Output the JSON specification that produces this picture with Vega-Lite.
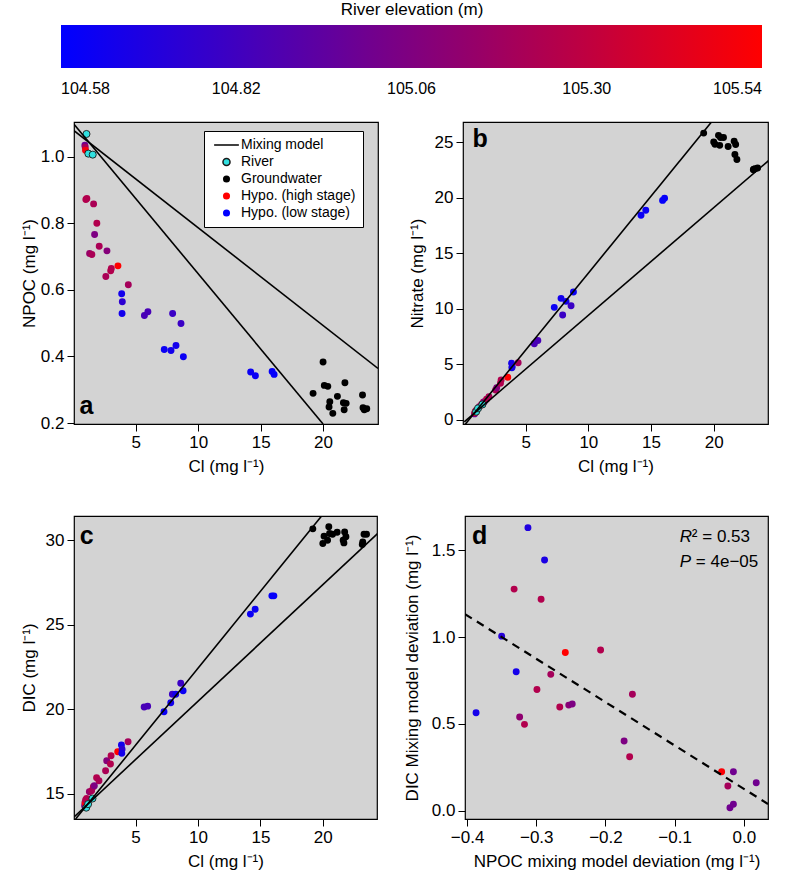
{
  "$schema": "https://vega.github.io/schema/vega-lite/v6.json",
  "padding": {"left": 19, "top": 2, "right": 5, "bottom": 5},
  "background": "white",
  "config": {
    "font": "Liberation Sans",
    "view": {"fill": "#d3d3d3", "stroke": "black", "strokeWidth": 1.2},
    "axis": {"domain": false, "grid": false, "tickColor": "black", "tickSize": 7, "tickWidth": 1, "labelFontSize": 17, "labelColor": "black", "labelPadding": 3, "titleFontSize": 17, "titleFontWeight": "normal", "titleColor": "black", "labelFont": "Liberation Sans", "titleFont": "Liberation Sans"},
    "text": {"font": "Liberation Sans"}
  },
  "datasets": {
    "river": [
      {"cl": 1.05, "npoc": 1.068, "no3": 0.75, "dic": 14.19, "cat": "River"},
      {"cl": 1.2, "npoc": 1.009, "no3": 1.05, "dic": 14.4, "cat": "River"},
      {"cl": 1.55, "npoc": 1.006, "no3": 1.4, "dic": 14.73, "cat": "River"}
    ],
    "gw": [
      {"cl": 19.2, "npoc": 0.289, "no3": 25.8, "dic": 30.67, "cat": "Groundwater"},
      {"cl": 20.0, "npoc": 0.383, "no3": 25.0, "dic": 29.8, "cat": "Groundwater"},
      {"cl": 20.1, "npoc": 0.313, "no3": 24.8, "dic": 30.24, "cat": "Groundwater"},
      {"cl": 20.38, "npoc": 0.31, "no3": 25.6, "dic": 30.0, "cat": "Groundwater"},
      {"cl": 20.48, "npoc": 0.248, "no3": 24.7, "dic": 30.79, "cat": "Groundwater"},
      {"cl": 20.54, "npoc": 0.264, "no3": 25.4, "dic": 30.4, "cat": "Groundwater"},
      {"cl": 20.78, "npoc": 0.229, "no3": 25.4, "dic": 30.35, "cat": "Groundwater"},
      {"cl": 21.15, "npoc": 0.28, "no3": 24.6, "dic": 30.47, "cat": "Groundwater"},
      {"cl": 21.63, "npoc": 0.261, "no3": 25.07, "dic": 30.0, "cat": "Groundwater"},
      {"cl": 21.69, "npoc": 0.24, "no3": 23.87, "dic": 29.84, "cat": "Groundwater"},
      {"cl": 21.75, "npoc": 0.321, "no3": 24.77, "dic": 30.49, "cat": "Groundwater"},
      {"cl": 21.85, "npoc": 0.259, "no3": 23.42, "dic": 30.2, "cat": "Groundwater"},
      {"cl": 23.16, "npoc": 0.284, "no3": 22.5, "dic": 29.75, "cat": "Groundwater"},
      {"cl": 23.2, "npoc": 0.246, "no3": 22.55, "dic": 29.9, "cat": "Groundwater"},
      {"cl": 23.3, "npoc": 0.24, "no3": 22.6, "dic": 30.35, "cat": "Groundwater"},
      {"cl": 23.5, "npoc": 0.243, "no3": 22.66, "dic": 30.35, "cat": "Groundwater"}
    ],
    "hypo": [
      {"cl": 0.92, "npoc": 1.034, "no3": 0.55, "dic": 14.3, "elev": 105.0},
      {"cl": 0.95, "npoc": 1.028, "no3": 0.65, "dic": 14.5, "elev": 105.2},
      {"cl": 0.97, "npoc": 1.019, "no3": 0.7, "dic": 14.45, "elev": 105.5},
      {"cl": 1.0, "npoc": 0.871, "no3": 0.8, "dic": 14.64, "elev": 105.25},
      {"cl": 1.08, "npoc": 0.874, "no3": 0.9, "dic": 14.74, "elev": 105.25},
      {"cl": 1.3, "npoc": 0.709, "no3": 1.2, "dic": 15.13, "elev": 105.15},
      {"cl": 1.48, "npoc": 0.706, "no3": 1.4, "dic": 15.19, "elev": 105.22},
      {"cl": 1.62, "npoc": 0.858, "no3": 1.6, "dic": 15.43, "elev": 105.22},
      {"cl": 1.7, "npoc": 0.766, "no3": 1.65, "dic": 15.49, "elev": 105.05},
      {"cl": 1.88, "npoc": 0.8, "no3": 1.87, "dic": 15.96, "elev": 105.25},
      {"cl": 2.07, "npoc": 0.731, "no3": 2.1, "dic": 15.78, "elev": 105.22},
      {"cl": 2.6, "npoc": 0.64, "no3": 2.7, "dic": 16.37, "elev": 105.22},
      {"cl": 2.69, "npoc": 0.717, "no3": 2.9, "dic": 16.96, "elev": 105.08},
      {"cl": 2.99, "npoc": 0.657, "no3": 3.3, "dic": 16.77, "elev": 105.25},
      {"cl": 3.04, "npoc": 0.664, "no3": 3.6, "dic": 17.26, "elev": 105.25},
      {"cl": 3.57, "npoc": 0.672, "no3": 3.85, "dic": 17.5, "elev": 105.54},
      {"cl": 3.87, "npoc": 0.588, "no3": 5.1, "dic": 17.89, "elev": 104.65},
      {"cl": 3.92, "npoc": 0.564, "no3": 4.8, "dic": 17.65, "elev": 104.75},
      {"cl": 3.9, "npoc": 0.529, "no3": 4.7, "dic": 17.4, "elev": 104.65},
      {"cl": 4.4, "npoc": 0.615, "no3": 5.15, "dic": 18.09, "elev": 105.2},
      {"cl": 5.69, "npoc": 0.523, "no3": 6.85, "dic": 20.14, "elev": 104.85},
      {"cl": 5.97, "npoc": 0.534, "no3": 7.15, "dic": 20.19, "elev": 104.85},
      {"cl": 7.28, "npoc": 0.421, "no3": 10.13, "dic": 19.86, "elev": 104.62},
      {"cl": 7.82, "npoc": 0.418, "no3": 10.94, "dic": 20.39, "elev": 104.65},
      {"cl": 7.95, "npoc": 0.529, "no3": 9.44, "dic": 20.89, "elev": 104.8},
      {"cl": 8.22, "npoc": 0.433, "no3": 10.67, "dic": 20.89, "elev": 104.65},
      {"cl": 8.62, "npoc": 0.499, "no3": 10.28, "dic": 21.54, "elev": 104.8},
      {"cl": 8.81, "npoc": 0.399, "no3": 11.51, "dic": 21.1, "elev": 104.62},
      {"cl": 14.2, "npoc": 0.353, "no3": 18.42, "dic": 25.63, "elev": 104.62},
      {"cl": 14.58, "npoc": 0.342, "no3": 18.87, "dic": 25.92, "elev": 104.62},
      {"cl": 15.92, "npoc": 0.355, "no3": 19.75, "dic": 26.71, "elev": 104.6},
      {"cl": 16.08, "npoc": 0.346, "no3": 19.95, "dic": 26.71, "elev": 104.6}
    ],
    "dev": [
      {"dn": -0.312, "dd": 1.63, "elev": 104.7},
      {"dn": -0.288, "dd": 1.444, "elev": 104.68},
      {"dn": -0.332, "dd": 1.276, "elev": 105.25},
      {"dn": -0.293, "dd": 1.218, "elev": 105.25},
      {"dn": -0.35, "dd": 1.005, "elev": 104.72},
      {"dn": -0.258, "dd": 0.911, "elev": 105.54},
      {"dn": -0.207, "dd": 0.925, "elev": 105.25},
      {"dn": -0.329, "dd": 0.8, "elev": 104.66},
      {"dn": -0.279, "dd": 0.785, "elev": 105.2},
      {"dn": -0.299, "dd": 0.698, "elev": 105.25},
      {"dn": -0.266, "dd": 0.597, "elev": 105.25},
      {"dn": -0.253, "dd": 0.608, "elev": 105.1},
      {"dn": -0.248, "dd": 0.614, "elev": 105.05},
      {"dn": -0.161, "dd": 0.67, "elev": 105.2},
      {"dn": -0.387, "dd": 0.564, "elev": 104.66},
      {"dn": -0.324, "dd": 0.539, "elev": 105.12},
      {"dn": -0.317, "dd": 0.497, "elev": 105.25},
      {"dn": -0.173, "dd": 0.401, "elev": 105.05},
      {"dn": -0.165, "dd": 0.311, "elev": 105.25},
      {"dn": -0.032, "dd": 0.224, "elev": 105.52},
      {"dn": -0.015, "dd": 0.224, "elev": 105.0},
      {"dn": -0.023, "dd": 0.142, "elev": 105.2},
      {"dn": 0.018, "dd": 0.161, "elev": 105.0},
      {"dn": -0.02, "dd": 0.017, "elev": 105.0},
      {"dn": -0.015, "dd": 0.037, "elev": 105.0}
    ],
    "mix": [
      {"p": "a", "x1": 0.05, "y1": 1.097, "x2": 20.0, "y2": 0.197},
      {"p": "a", "x1": 0.05, "y1": 1.078, "x2": 24.4, "y2": 0.364},
      {"p": "b", "x1": 0.0, "y1": -0.63, "x2": 19.82, "y2": 26.8},
      {"p": "b", "x1": 0.1, "y1": -0.16, "x2": 24.4, "y2": 23.35},
      {"p": "c", "x1": 0.2, "y1": 13.52, "x2": 19.9, "y2": 31.43},
      {"p": "c", "x1": 0.1, "y1": 13.66, "x2": 24.4, "y2": 30.4},
      {"p": "d", "x1": -0.403, "y1": 1.132, "x2": 0.035, "y2": 0.0386}
    ]
  },
  "bounds": "flush",
  "spacing": 394,
  "vconcat": [
    {
      "bounds": "flush",
      "spacing": 85,
      "hconcat": [
        {
          "width": 304, "height": 302,
          "layer": [
            {
              "data": {"name": "hypo"},
              "mark": {"type": "point", "filled": true, "size": 48, "opacity": 1, "strokeWidth": 0},
              "encoding": {
                "x": {"field": "cl", "type": "quantitative", "scale": {"domain": [0.05, 24.4], "nice": false, "zero": false}, "axis": {"values": [5, 10, 15, 20], "title": "Cl (mg l⁻¹)", "titlePadding": 8}},
                "y": {"field": "npoc", "type": "quantitative", "scale": {"domain": [0.197, 1.104], "nice": false, "zero": false}, "axis": {"values": [0.2, 0.4, 0.6, 0.8, 1.0], "format": ".1f", "title": "NPOC (mg l⁻¹)", "titlePadding": 2}},
                "color": {"field": "elev", "type": "quantitative", "scale": {"domain": [104.58, 105.54], "range": ["#0000ff", "#ff0000"], "interpolate": "rgb"},
                  "legend": {"orient": "none", "legendX": -13, "legendY": -120, "direction": "horizontal", "title": "River elevation (m)", "titleAnchor": "middle", "titleFontSize": 17, "titleFontWeight": "normal", "titleColor": "black", "titlePadding": 6, "gradientLength": 701, "gradientThickness": 43, "gradientStrokeWidth": 0, "values": [104.58, 104.82, 105.06, 105.3, 105.54], "format": ".2f", "labelFontSize": 16, "labelColor": "black", "labelOffset": 13, "labelAlign": "center", "labelOverlap": false, "padding": 0}}
              }
            },
            {
              "data": {"name": "river"},
              "mark": {"type": "point", "filled": true, "size": 50, "opacity": 1, "strokeWidth": 0.9},
              "encoding": {
                "x": {"field": "cl", "type": "quantitative", "scale": {"domain": [0.05, 24.4], "nice": false, "zero": false}},
                "y": {"field": "npoc", "type": "quantitative", "scale": {"domain": [0.197, 1.104], "nice": false, "zero": false}},
                "fill": {"field": "cat", "type": "nominal", "scale": {"domain": ["Mixing model", "River", "Groundwater", "Hypo. (high stage)", "Hypo. (low stage)"], "range": ["black", "#30e0e0", "black", "#ff0000", "#0000ff"]},
                  "legend": {"orient": "none", "legendX": 130, "legendY": 9, "title": null, "labelFontSize": 14, "labelColor": "black", "symbolSize": 50, "symbolStrokeWidth": 1.5, "padding": 7, "strokeColor": "black", "fillColor": "white", "rowPadding": 3, "symbolOffset": 8.5, "labelOffset": 7.5,
                    "labelExpr": "datum.label + '\u00a0\u00a0\u00a0'"}},
                "shape": {"field": "cat", "type": "nominal", "scale": {"domain": ["Mixing model", "River", "Groundwater", "Hypo. (high stage)", "Hypo. (low stage)"], "range": ["M-3.5,0H3.5", "circle", "circle", "circle", "circle"]}},
                "stroke": {"field": "cat", "type": "nominal", "scale": {"domain": ["Mixing model", "River", "Groundwater", "Hypo. (high stage)", "Hypo. (low stage)"], "range": ["black", "#1a1a1a", "transparent", "transparent", "transparent"]}}
              }
            },
            {
              "data": {"name": "gw"},
              "mark": {"type": "point", "filled": true, "size": 48, "opacity": 1, "strokeWidth": 0},
              "encoding": {
                "x": {"field": "cl", "type": "quantitative", "scale": {"domain": [0.05, 24.4], "nice": false, "zero": false}},
                "y": {"field": "npoc", "type": "quantitative", "scale": {"domain": [0.197, 1.104], "nice": false, "zero": false}},
                "fill": {"field": "cat", "type": "nominal"},
                "shape": {"field": "cat", "type": "nominal"},
                "stroke": {"field": "cat", "type": "nominal"}
              }
            },
            {
              "data": {"name": "mix"},
              "transform": [{"filter": {"field": "p", "equal": "a"}}],
              "mark": {"type": "rule", "color": "black", "strokeWidth": 1.6, "clip": true},
              "encoding": {
                "x": {"field": "x1", "type": "quantitative", "scale": {"domain": [0.05, 24.4], "nice": false, "zero": false}},
                "y": {"field": "y1", "type": "quantitative", "scale": {"domain": [0.197, 1.104], "nice": false, "zero": false}},
                "x2": {"field": "x2"},
                "y2": {"field": "y2"}
              }
            },
            {
              "data": {"values": [{"x": 0.49, "y": 0.226, "t": "a"}]},
              "mark": {"type": "text", "fontSize": 25, "fontWeight": "bold", "align": "left", "baseline": "alphabetic", "color": "black"},
              "encoding": {
                "x": {"field": "x", "type": "quantitative", "scale": {"domain": [0.05, 24.4], "nice": false, "zero": false}},
                "y": {"field": "y", "type": "quantitative", "scale": {"domain": [0.197, 1.104], "nice": false, "zero": false}},
                "text": {"field": "t"}
              }
            }
          ]
        },
        {
          "width": 305, "height": 302,
          "layer": [
            {
              "data": {"name": "hypo"},
              "mark": {"type": "point", "filled": true, "size": 48, "opacity": 1, "strokeWidth": 0},
              "encoding": {
                "x": {"field": "cl", "type": "quantitative", "scale": {"domain": [0.0, 24.33], "nice": false, "zero": false}, "axis": {"values": [5, 10, 15, 20], "title": "Cl (mg l⁻¹)", "titlePadding": 8}},
                "y": {"field": "no3", "type": "quantitative", "scale": {"domain": [-0.36, 26.8], "nice": false, "zero": false}, "axis": {"values": [0, 5, 10, 15, 20, 25], "title": "Nitrate (mg l⁻¹)", "titlePadding": 8}},
                "color": {"field": "elev", "type": "quantitative"}
              }
            },
            {
              "data": {"name": "river"},
              "mark": {"type": "point", "filled": true, "size": 50, "opacity": 1, "strokeWidth": 0.9},
              "encoding": {
                "x": {"field": "cl", "type": "quantitative", "scale": {"domain": [0.0, 24.33], "nice": false, "zero": false}},
                "y": {"field": "no3", "type": "quantitative", "scale": {"domain": [-0.36, 26.8], "nice": false, "zero": false}},
                "fill": {"field": "cat", "type": "nominal"},
                "shape": {"field": "cat", "type": "nominal"},
                "stroke": {"field": "cat", "type": "nominal"}
              }
            },
            {
              "data": {"name": "gw"},
              "mark": {"type": "point", "filled": true, "size": 48, "opacity": 1, "strokeWidth": 0},
              "encoding": {
                "x": {"field": "cl", "type": "quantitative", "scale": {"domain": [0.0, 24.33], "nice": false, "zero": false}},
                "y": {"field": "no3", "type": "quantitative", "scale": {"domain": [-0.36, 26.8], "nice": false, "zero": false}},
                "fill": {"field": "cat", "type": "nominal"},
                "shape": {"field": "cat", "type": "nominal"},
                "stroke": {"field": "cat", "type": "nominal"}
              }
            },
            {
              "data": {"name": "mix"},
              "transform": [{"filter": {"field": "p", "equal": "b"}}],
              "mark": {"type": "rule", "color": "black", "strokeWidth": 1.6, "clip": true},
              "encoding": {
                "x": {"field": "x1", "type": "quantitative", "scale": {"domain": [0.0, 24.33], "nice": false, "zero": false}},
                "y": {"field": "y1", "type": "quantitative", "scale": {"domain": [-0.36, 26.8], "nice": false, "zero": false}},
                "x2": {"field": "x2"},
                "y2": {"field": "y2"}
              }
            },
            {
              "data": {"values": [{"x": 0.75, "y": 24.55, "t": "b"}]},
              "mark": {"type": "text", "fontSize": 25, "fontWeight": "bold", "align": "left", "baseline": "alphabetic", "color": "black"},
              "encoding": {
                "x": {"field": "x", "type": "quantitative", "scale": {"domain": [0.0, 24.33], "nice": false, "zero": false}},
                "y": {"field": "y", "type": "quantitative", "scale": {"domain": [-0.36, 26.8], "nice": false, "zero": false}},
                "text": {"field": "t"}
              }
            }
          ]
        }
      ]
    },
    {
      "bounds": "flush",
      "spacing": 88,
      "hconcat": [
        {
          "width": 303, "height": 303,
          "layer": [
            {
              "data": {"name": "hypo"},
              "mark": {"type": "point", "filled": true, "size": 48, "opacity": 1, "strokeWidth": 0},
              "encoding": {
                "x": {"field": "cl", "type": "quantitative", "scale": {"domain": [0.07, 24.34], "nice": false, "zero": false}, "axis": {"values": [5, 10, 15, 20], "title": "Cl (mg l⁻¹)", "titlePadding": 8}},
                "y": {"field": "dic", "type": "quantitative", "scale": {"domain": [13.52, 31.43], "nice": false, "zero": false}, "axis": {"values": [15, 20, 25, 30], "title": "DIC (mg l⁻¹)", "titlePadding": 7}},
                "color": {"field": "elev", "type": "quantitative"}
              }
            },
            {
              "data": {"name": "river"},
              "mark": {"type": "point", "filled": true, "size": 50, "opacity": 1, "strokeWidth": 0.9},
              "encoding": {
                "x": {"field": "cl", "type": "quantitative", "scale": {"domain": [0.07, 24.34], "nice": false, "zero": false}},
                "y": {"field": "dic", "type": "quantitative", "scale": {"domain": [13.52, 31.43], "nice": false, "zero": false}},
                "fill": {"field": "cat", "type": "nominal"},
                "shape": {"field": "cat", "type": "nominal"},
                "stroke": {"field": "cat", "type": "nominal"}
              }
            },
            {
              "data": {"name": "gw"},
              "mark": {"type": "point", "filled": true, "size": 48, "opacity": 1, "strokeWidth": 0},
              "encoding": {
                "x": {"field": "cl", "type": "quantitative", "scale": {"domain": [0.07, 24.34], "nice": false, "zero": false}},
                "y": {"field": "dic", "type": "quantitative", "scale": {"domain": [13.52, 31.43], "nice": false, "zero": false}},
                "fill": {"field": "cat", "type": "nominal"},
                "shape": {"field": "cat", "type": "nominal"},
                "stroke": {"field": "cat", "type": "nominal"}
              }
            },
            {
              "data": {"name": "mix"},
              "transform": [{"filter": {"field": "p", "equal": "c"}}],
              "mark": {"type": "rule", "color": "black", "strokeWidth": 1.6, "clip": true},
              "encoding": {
                "x": {"field": "x1", "type": "quantitative", "scale": {"domain": [0.07, 24.34], "nice": false, "zero": false}},
                "y": {"field": "y1", "type": "quantitative", "scale": {"domain": [13.52, 31.43], "nice": false, "zero": false}},
                "x2": {"field": "x2"},
                "y2": {"field": "y2"}
              }
            },
            {
              "data": {"values": [{"x": 0.54, "y": 29.75, "t": "c"}]},
              "mark": {"type": "text", "fontSize": 25, "fontWeight": "bold", "align": "left", "baseline": "alphabetic", "color": "black"},
              "encoding": {
                "x": {"field": "x", "type": "quantitative", "scale": {"domain": [0.07, 24.34], "nice": false, "zero": false}},
                "y": {"field": "y", "type": "quantitative", "scale": {"domain": [13.52, 31.43], "nice": false, "zero": false}},
                "text": {"field": "t"}
              }
            }
          ]
        },
        {
          "width": 303, "height": 303,
          "layer": [
            {
              "data": {"name": "dev"},
              "mark": {"type": "point", "filled": true, "size": 48, "opacity": 1, "strokeWidth": 0},
              "encoding": {
                "x": {"field": "dn", "type": "quantitative", "scale": {"domain": [-0.403, 0.035], "nice": false, "zero": false}, "axis": {"values": [-0.4, -0.3, -0.2, -0.1, 0], "format": ".1f", "title": "NPOC mixing model deviation (mg l⁻¹)", "titlePadding": 8}},
                "y": {"field": "dd", "type": "quantitative", "scale": {"domain": [-0.048, 1.697], "nice": false, "zero": false}, "axis": {"values": [0, 0.5, 1.0, 1.5], "format": ".1f", "title": "DIC Mixing model deviation (mg l⁻¹)", "titlePadding": 10}},
                "color": {"field": "elev", "type": "quantitative"}
              }
            },
            {
              "data": {"name": "mix"},
              "transform": [{"filter": {"field": "p", "equal": "d"}}],
              "mark": {"type": "rule", "color": "black", "strokeWidth": 2.2, "strokeDash": [8, 6], "clip": true},
              "encoding": {
                "x": {"field": "x1", "type": "quantitative", "scale": {"domain": [-0.403, 0.035], "nice": false, "zero": false}},
                "y": {"field": "y1", "type": "quantitative", "scale": {"domain": [-0.048, 1.697], "nice": false, "zero": false}},
                "x2": {"field": "x2"},
                "y2": {"field": "y2"}
              }
            },
            {
              "data": {"values": [{"x": -0.393, "y": 1.533, "t": "d"}]},
              "mark": {"type": "text", "fontSize": 25, "fontWeight": "bold", "align": "left", "baseline": "alphabetic", "color": "black"},
              "encoding": {
                "x": {"field": "x", "type": "quantitative", "scale": {"domain": [-0.403, 0.035], "nice": false, "zero": false}},
                "y": {"field": "y", "type": "quantitative", "scale": {"domain": [-0.048, 1.697], "nice": false, "zero": false}},
                "text": {"field": "t"}
              }
            },
            {
              "data": {"values": [{"x": -0.0924, "y": 1.548, "t": "R"}, {"x": -0.0924, "y": 1.404, "t": "P"}]},
              "mark": {"type": "text", "fontSize": 17, "fontStyle": "italic", "align": "left", "baseline": "alphabetic", "color": "black"},
              "encoding": {
                "x": {"field": "x", "type": "quantitative", "scale": {"domain": [-0.403, 0.035], "nice": false, "zero": false}},
                "y": {"field": "y", "type": "quantitative", "scale": {"domain": [-0.048, 1.697], "nice": false, "zero": false}},
                "text": {"field": "t"}
              }
            },
            {
              "data": {"values": [{"x": -0.0924, "y": 1.548, "t": "² = 0.53"}]},
              "mark": {"type": "text", "fontSize": 17, "align": "left", "baseline": "alphabetic", "color": "black", "dx": 12},
              "encoding": {
                "x": {"field": "x", "type": "quantitative", "scale": {"domain": [-0.403, 0.035], "nice": false, "zero": false}},
                "y": {"field": "y", "type": "quantitative", "scale": {"domain": [-0.048, 1.697], "nice": false, "zero": false}},
                "text": {"field": "t"}
              }
            },
            {
              "data": {"values": [{"x": -0.0924, "y": 1.404, "t": "= 4e−05"}]},
              "mark": {"type": "text", "fontSize": 17, "align": "left", "baseline": "alphabetic", "color": "black", "dx": 16},
              "encoding": {
                "x": {"field": "x", "type": "quantitative", "scale": {"domain": [-0.403, 0.035], "nice": false, "zero": false}},
                "y": {"field": "y", "type": "quantitative", "scale": {"domain": [-0.048, 1.697], "nice": false, "zero": false}},
                "text": {"field": "t"}
              }
            }
          ]
        }
      ]
    }
  ]
}
